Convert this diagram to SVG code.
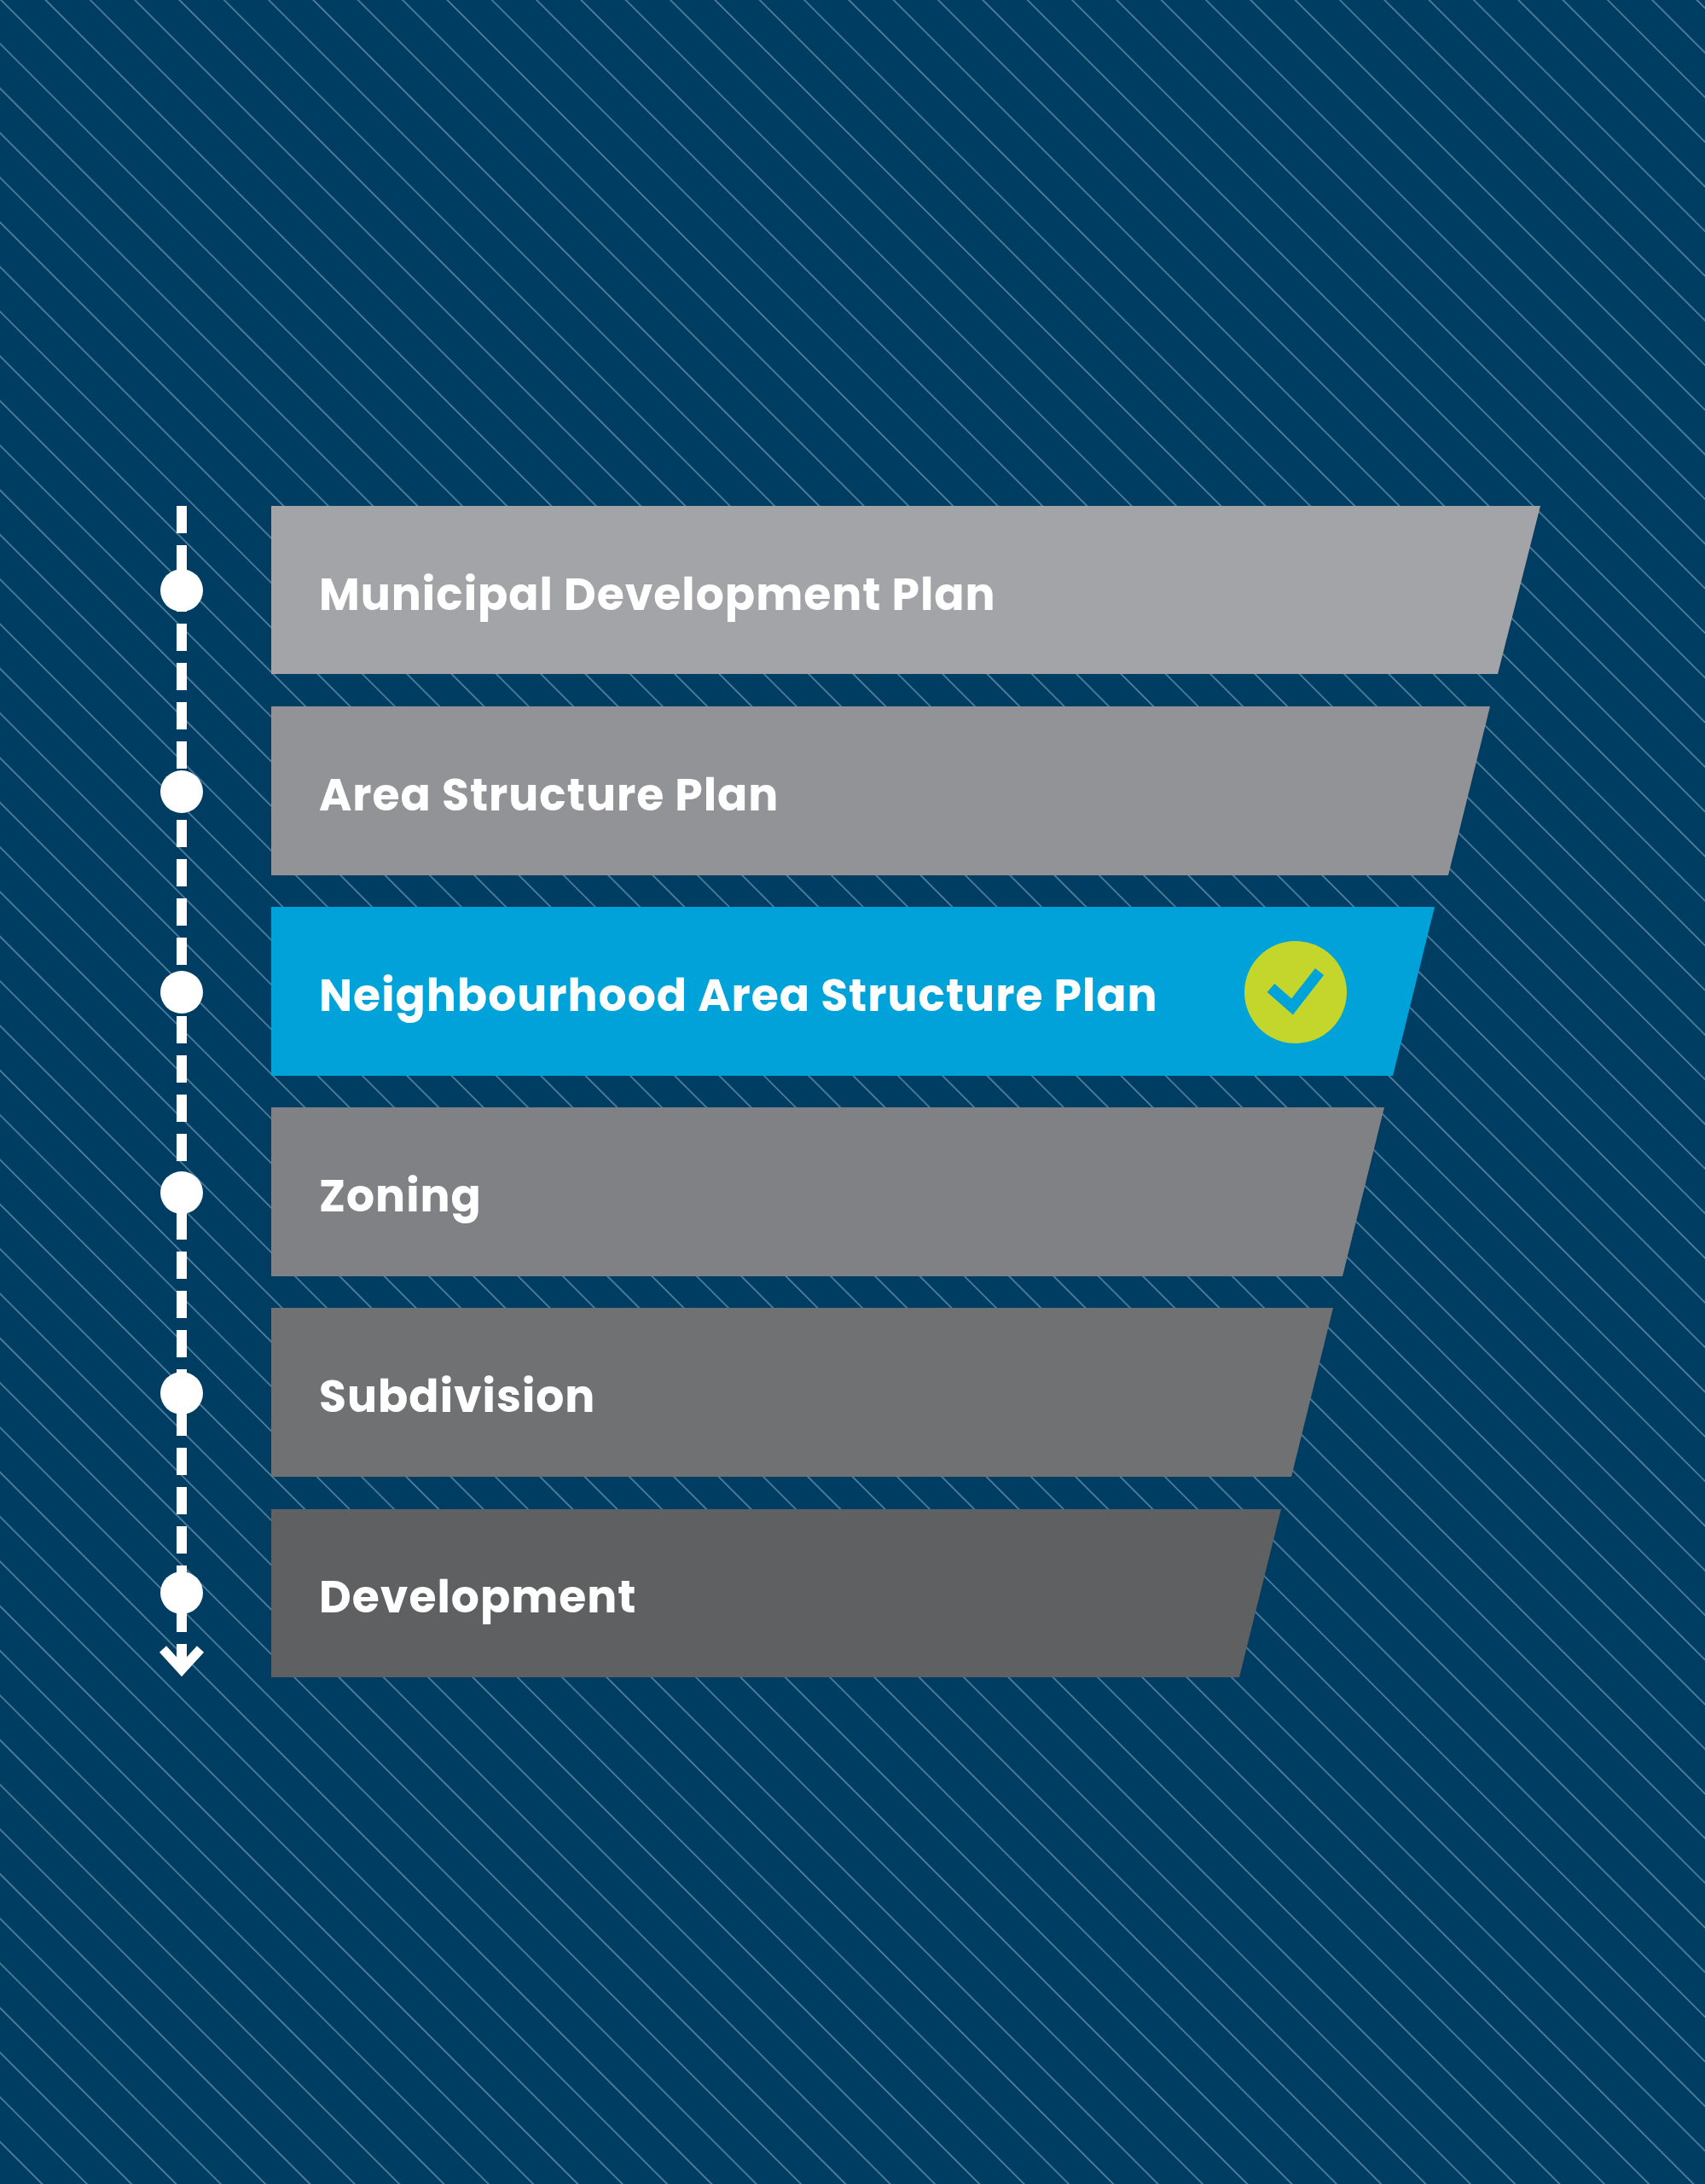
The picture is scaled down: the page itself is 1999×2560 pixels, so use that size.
<svg xmlns="http://www.w3.org/2000/svg" width="1999" height="2560" viewBox="0 0 1999 2560">
<style>
.lbl{font-family:"Poppins","Open Sans","Liberation Sans",sans-serif;font-weight:700;font-size:52px;letter-spacing:1px;fill:#fff}
.dot{fill:#fff}
</style>
<defs>
<pattern id="hatch" width="37" height="37" patternUnits="userSpaceOnUse" patternTransform="rotate(-45)">
<line x1="0" y1="0" x2="0" y2="37" stroke="#5f8aa8" stroke-width="3"/>
</pattern>
</defs>
<rect width="1999" height="2560" fill="#003d62"/>
<rect width="1999" height="2560" fill="url(#hatch)"/>
<g id="connectors">
<line x1="213" y1="593" x2="213" y2="1950" stroke="#fff" stroke-width="12" stroke-dasharray="32,14"/>
<polyline points="191,1933 213,1957 235,1933" fill="none" stroke="#fff" stroke-width="11"/>
<circle class="dot" cx="213" cy="692" r="25"/>
<circle class="dot" cx="213" cy="928" r="25"/>
<circle class="dot" cx="213" cy="1163" r="25"/>
<circle class="dot" cx="213" cy="1398" r="25"/>
<circle class="dot" cx="213" cy="1633" r="25"/>
<circle class="dot" cx="213" cy="1867" r="25"/>
</g>
<g id="n1"><polygon points="318,593 1806,593 1756,790 318,790" fill="#a3a4a8"/><text class="lbl" x="374" y="715">Municipal Development Plan</text></g>
<g id="n2"><polygon points="318,828 1747,828 1698,1026 318,1026" fill="#929397"/><text class="lbl" x="374" y="950">Area Structure Plan</text></g>
<g id="n3"><polygon points="318,1063 1682,1063 1633,1261 318,1261" fill="#00a3d9"/><text class="lbl" x="374" y="1185">Neighbourhood Area Structure Plan</text>
<circle cx="1519" cy="1163" r="60" fill="#c4d52b"/><polyline points="1490,1158 1515,1180 1547,1139" fill="none" stroke="#00a3d9" stroke-width="13"/></g>
<g id="n4"><polygon points="318,1298 1623,1298 1574,1496 318,1496" fill="#808185"/><text class="lbl" x="374" y="1420">Zoning</text></g>
<g id="n5"><polygon points="318,1533 1563,1533 1514,1731 318,1731" fill="#707173"/><text class="lbl" x="374" y="1655">Subdivision</text></g>
<g id="n6"><polygon points="318,1769 1502,1769 1453,1966 318,1966" fill="#5f6062"/><text class="lbl" x="374" y="1890">Development</text></g>
</svg>
